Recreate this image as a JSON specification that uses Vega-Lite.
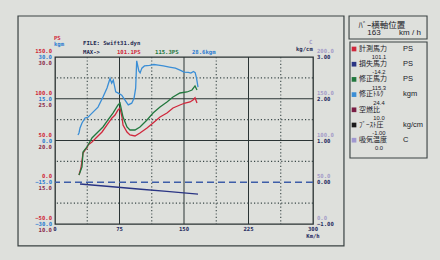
{
  "$schema": "https://vega.github.io/schema/vega-lite/v6.json",
  "width": 258,
  "height": 167,
  "autosize": {"type": "none"},
  "padding": {"left": 55, "top": 57, "right": 127, "bottom": 36},
  "background": "#dee0dc",
  "config": {
    "view": {"stroke": "#283030", "strokeWidth": 1.3},
    "axis": {"disable": true},
    "legend": {"disable": true},
    "text": {"font": "DejaVu Sans Mono", "fontWeight": "bold", "fontSize": 5.6, "baseline": "middle", "clip": false}
  },
  "datasets": {
    "ps": [
      {"s": "計測馬力", "speed": 27.9, "ps": 8.7}, {"s": "計測馬力", "speed": 30.2, "ps": 17.1}, {"s": "計測馬力", "speed": 32.6, "ps": 35.0}, {"s": "計測馬力", "speed": 34.9, "ps": 38.6}, {"s": "計測馬力", "speed": 37.2, "ps": 41.0}, {"s": "計測馬力", "speed": 38.4, "ps": 44.6}, {"s": "計測馬力", "speed": 43.0, "ps": 48.2}, {"s": "計測馬力", "speed": 48.8, "ps": 54.2}, {"s": "計測馬力", "speed": 54.7, "ps": 60.2}, {"s": "計測馬力", "speed": 60.5, "ps": 68.6}, {"s": "計測馬力", "speed": 66.3, "ps": 77.0}, {"s": "計測馬力", "speed": 69.8, "ps": 80.5}, {"s": "計測馬力", "speed": 73.3, "ps": 86.5}, {"s": "計測馬力", "speed": 75.6, "ps": 88.9}, {"s": "計測馬力", "speed": 77.9, "ps": 78.1}, {"s": "計測馬力", "speed": 79.1, "ps": 68.6}, {"s": "計測馬力", "speed": 83.7, "ps": 60.2}, {"s": "計測馬力", "speed": 87.2, "ps": 56.6}, {"s": "計測馬力", "speed": 93.0, "ps": 55.4}, {"s": "計測馬力", "speed": 98.8, "ps": 59.0}, {"s": "計測馬力", "speed": 107.0, "ps": 65.0}, {"s": "計測馬力", "speed": 114.0, "ps": 71.0}, {"s": "計測馬力", "speed": 122.1, "ps": 78.1}, {"s": "計測馬力", "speed": 130.2, "ps": 82.9}, {"s": "計測馬力", "speed": 137.2, "ps": 88.9}, {"s": "計測馬力", "speed": 145.3, "ps": 92.5}, {"s": "計測馬力", "speed": 151.2, "ps": 94.9}, {"s": "計測馬力", "speed": 157.0, "ps": 96.1}, {"s": "計測馬力", "speed": 160.5, "ps": 98.5}, {"s": "計測馬力", "speed": 162.8, "ps": 101.1}, {"s": "計測馬力", "speed": 165.1, "ps": 94.9},
      {"s": "修正馬力", "speed": 27.9, "ps": 8.7}, {"s": "修正馬力", "speed": 31.4, "ps": 18.3}, {"s": "修正馬力", "speed": 32.6, "ps": 36.2}, {"s": "修正馬力", "speed": 37.2, "ps": 42.2}, {"s": "修正馬力", "speed": 43.0, "ps": 53.0}, {"s": "修正馬力", "speed": 48.8, "ps": 59.0}, {"s": "修正馬力", "speed": 55.8, "ps": 66.2}, {"s": "修正馬力", "speed": 61.6, "ps": 74.6}, {"s": "修正馬力", "speed": 67.4, "ps": 82.9}, {"s": "修正馬力", "speed": 73.3, "ps": 92.5}, {"s": "修正馬力", "speed": 75.6, "ps": 94.9}, {"s": "修正馬力", "speed": 79.1, "ps": 78.1}, {"s": "修正馬力", "speed": 83.7, "ps": 66.2}, {"s": "修正馬力", "speed": 87.2, "ps": 62.6}, {"s": "修正馬力", "speed": 93.0, "ps": 62.6}, {"s": "修正馬力", "speed": 98.8, "ps": 66.2}, {"s": "修正馬力", "speed": 107.0, "ps": 74.6}, {"s": "修正馬力", "speed": 114.0, "ps": 82.9}, {"s": "修正馬力", "speed": 122.1, "ps": 90.1}, {"s": "修正馬力", "speed": 130.2, "ps": 96.1}, {"s": "修正馬力", "speed": 137.2, "ps": 102.1}, {"s": "修正馬力", "speed": 145.3, "ps": 106.9}, {"s": "修正馬力", "speed": 153.5, "ps": 108.1}, {"s": "修正馬力", "speed": 159.3, "ps": 110.5}, {"s": "修正馬力", "speed": 162.8, "ps": 115.3}, {"s": "修正馬力", "speed": 165.1, "ps": 110.5},
      {"s": "損失馬力", "speed": 29.1, "ps": -2.1}, {"s": "損失馬力", "speed": 60.0, "ps": -4.8}, {"s": "損失馬力", "speed": 100.0, "ps": -8.4}, {"s": "損失馬力", "speed": 130.0, "ps": -11.0}, {"s": "損失馬力", "speed": 166.3, "ps": -14.2}
    ],
    "kgm": [
      {"speed": 26.7, "kgm": 2.0}, {"speed": 27.9, "kgm": 2.7}, {"speed": 29.1, "kgm": 4.5}, {"speed": 31.4, "kgm": 6.3}, {"speed": 34.9, "kgm": 8.1}, {"speed": 38.4, "kgm": 8.4}, {"speed": 41.0, "kgm": 9.2}, {"speed": 44.2, "kgm": 10.2}, {"speed": 50.0, "kgm": 12.0}, {"speed": 55.8, "kgm": 15.6}, {"speed": 60.5, "kgm": 18.9}, {"speed": 64.0, "kgm": 22.3}, {"speed": 65.9, "kgm": 20.6}, {"speed": 67.8, "kgm": 21.7}, {"speed": 70.6, "kgm": 17.5}, {"speed": 73.6, "kgm": 17.0}, {"speed": 77.6, "kgm": 16.3}, {"speed": 81.4, "kgm": 14.5}, {"speed": 85.2, "kgm": 12.8}, {"speed": 89.2, "kgm": 13.4}, {"speed": 91.9, "kgm": 15.2}, {"speed": 93.8, "kgm": 18.8}, {"speed": 95.0, "kgm": 28.6}, {"speed": 97.5, "kgm": 25.0}, {"speed": 99.0, "kgm": 24.3}, {"speed": 101.0, "kgm": 26.0}, {"speed": 104.0, "kgm": 26.8}, {"speed": 110.0, "kgm": 27.0}, {"speed": 115.0, "kgm": 27.3}, {"speed": 120.0, "kgm": 27.1}, {"speed": 126.0, "kgm": 26.8}, {"speed": 133.0, "kgm": 26.4}, {"speed": 140.0, "kgm": 26.0}, {"speed": 146.0, "kgm": 25.2}, {"speed": 150.0, "kgm": 24.6}, {"speed": 155.0, "kgm": 24.5}, {"speed": 158.0, "kgm": 24.2}, {"speed": 161.0, "kgm": 24.8}, {"speed": 163.0, "kgm": 24.4}, {"speed": 164.5, "kgm": 22.5}, {"speed": 166.3, "kgm": 19.2}
    ],
    "yt": [
      {"ps": 150, "b": 30, "c": 30, "d": 200, "e": 3},
      {"ps": 100, "b": 15, "c": 25, "d": 150, "e": 2},
      {"ps": 50, "b": 0, "c": 20, "d": 100, "e": 1},
      {"ps": 0, "b": -15, "c": 15, "d": 50, "e": 0},
      {"ps": -50, "b": -30, "c": 10, "d": 0, "e": -1}
    ],
    "xt": [{"speed": 0}, {"speed": 75}, {"speed": 150}, {"speed": 225}, {"speed": 300}],
    "legend": [
      {"rank": 1, "name": "計測馬力", "unit": "PS", "val": "101.1"},
      {"rank": 2, "name": "損失馬力", "unit": "PS", "val": "-14.2"},
      {"rank": 3, "name": "修正馬力", "unit": "PS", "val": "115.3"},
      {"rank": 4, "name": "修正ﾄﾙｸ", "unit": "kgm", "val": "24.4"},
      {"rank": 5, "name": "空燃比", "unit": "", "val": "10.0"},
      {"rank": 6, "name": "ﾌﾞｰｽﾄ圧", "unit": "kg/cm", "val": "-1.00"},
      {"rank": 7, "name": "吸気温度", "unit": "C", "val": "0.0"}
    ]
  },
  "layer": [
    {
      "layer": [
        {"data": {"values": [{}]}, "mark": {"type": "rect", "filled": false, "color": "#3a4242", "strokeWidth": 1.2, "clip": false},
         "encoding": {"x": {"datum": -43.0, "type": "quantitative", "scale": {"domain": [0, 300], "nice": false}}, "x2": {"datum": 336.0}, "y": {"datum": 199.1, "type": "quantitative", "scale": {"domain": [-50, 150], "nice": false}}, "y2": {"datum": -76.3}}},
        {"data": {"values": [{}]}, "mark": {"type": "rect", "filled": false, "color": "#3a4242", "strokeWidth": 1.1, "clip": false},
         "encoding": {"x": {"datum": 341.9, "type": "quantitative", "scale": {"domain": [0, 300], "nice": false}}, "x2": {"datum": 432.6}, "y": {"datum": 199.1, "type": "quantitative", "scale": {"domain": [-50, 150], "nice": false}}, "y2": {"datum": 171.6}}},
        {"data": {"values": [{}]}, "mark": {"type": "rect", "filled": false, "color": "#3a4242", "strokeWidth": 1.1, "clip": false},
         "encoding": {"x": {"datum": 343.0, "type": "quantitative", "scale": {"domain": [0, 300], "nice": false}}, "x2": {"datum": 432.6}, "y": {"datum": 168.0, "type": "quantitative", "scale": {"domain": [-50, 150], "nice": false}}, "y2": {"datum": 29.0}}},
        {"data": {"values": [{"speed": 75}, {"speed": 150}, {"speed": 225}]}, "mark": {"type": "rule", "color": "#2a3434", "strokeWidth": 1},
         "encoding": {"x": {"field": "speed", "type": "quantitative", "scale": {"domain": [0, 300], "nice": false}}}},
        {"data": {"values": [{"speed": 37.5}, {"speed": 112.5}, {"speed": 187.5}, {"speed": 262.5}]}, "mark": {"type": "rule", "color": "#3a4848", "strokeWidth": 1.1, "strokeDash": [1.2, 2.2]},
         "encoding": {"x": {"field": "speed", "type": "quantitative", "scale": {"domain": [0, 300], "nice": false}}}},
        {"data": {"values": [{"ps": 100}, {"ps": 50}]}, "mark": {"type": "rule", "color": "#2a3434", "strokeWidth": 1},
         "encoding": {"y": {"field": "ps", "type": "quantitative", "scale": {"domain": [-50, 150], "nice": false}}}},
        {"data": {"values": [{"ps": 125}, {"ps": 75}, {"ps": 25}, {"ps": -25}]}, "mark": {"type": "rule", "color": "#3a4848", "strokeWidth": 1.1, "strokeDash": [1.2, 2.2]},
         "encoding": {"y": {"field": "ps", "type": "quantitative", "scale": {"domain": [-50, 150], "nice": false}}}},
        {"data": {"values": [{}]}, "mark": {"type": "rule", "color": "#3d5da8", "strokeWidth": 1.6, "strokeDash": [7, 4]},
         "encoding": {"y": {"datum": 0, "type": "quantitative", "scale": {"domain": [-50, 150], "nice": false}}}},
        {"data": {"name": "ps"}, "mark": {"type": "line", "strokeWidth": 1.3},
         "encoding": {
           "x": {"field": "speed", "type": "quantitative", "scale": {"domain": [0, 300], "nice": false}},
           "y": {"field": "ps", "type": "quantitative", "scale": {"domain": [-50, 150], "nice": false}},
           "color": {"field": "s", "type": "nominal", "scale": {"domain": ["計測馬力", "損失馬力", "修正馬力", "修正ﾄﾙｸ", "空燃比", "ﾌﾞｰｽﾄ圧", "吸気温度"], "range": ["#d0283c", "#2a3584", "#22783e", "#3a8ed6", "#7a1e44", "#1a1a1a", "#a098d0"]}}
         }},
        {"data": {"name": "yt"}, "mark": {"type": "text", "align": "right", "dx": -3, "dy": -6, "color": "#d02838"},
         "encoding": {"x": {"datum": 0, "type": "quantitative", "scale": {"domain": [0, 300], "nice": false}}, "y": {"field": "ps", "type": "quantitative", "scale": {"domain": [-50, 150], "nice": false}}, "text": {"field": "ps", "type": "quantitative", "format": ".1f"}}},
        {"data": {"name": "yt"}, "mark": {"type": "text", "align": "right", "dx": -3, "dy": 0, "color": "#2a7ad0"},
         "encoding": {"x": {"datum": 0, "type": "quantitative", "scale": {"domain": [0, 300], "nice": false}}, "y": {"field": "ps", "type": "quantitative", "scale": {"domain": [-50, 150], "nice": false}}, "text": {"field": "b", "type": "quantitative", "format": ".1f"}}},
        {"data": {"name": "yt"}, "mark": {"type": "text", "align": "right", "dx": -3, "dy": 6, "color": "#8a2a48"},
         "encoding": {"x": {"datum": 0, "type": "quantitative", "scale": {"domain": [0, 300], "nice": false}}, "y": {"field": "ps", "type": "quantitative", "scale": {"domain": [-50, 150], "nice": false}}, "text": {"field": "c", "type": "quantitative", "format": ".1f"}}},
        {"data": {"name": "yt"}, "mark": {"type": "text", "align": "left", "dx": 4, "dy": -6, "color": "#a49cc8"},
         "encoding": {"x": {"datum": 300, "type": "quantitative", "scale": {"domain": [0, 300], "nice": false}}, "y": {"field": "ps", "type": "quantitative", "scale": {"domain": [-50, 150], "nice": false}}, "text": {"field": "d", "type": "quantitative", "format": ".1f"}}},
        {"data": {"name": "yt"}, "mark": {"type": "text", "align": "left", "dx": 4, "dy": 0, "color": "#1e2a60"},
         "encoding": {"x": {"datum": 300, "type": "quantitative", "scale": {"domain": [0, 300], "nice": false}}, "y": {"field": "ps", "type": "quantitative", "scale": {"domain": [-50, 150], "nice": false}}, "text": {"field": "e", "type": "quantitative", "format": ".2f"}}},
        {"data": {"name": "xt"}, "mark": {"type": "text", "align": "center", "color": "#1e2a60"},
         "encoding": {"x": {"field": "speed", "type": "quantitative", "scale": {"domain": [0, 300], "nice": false}}, "y": {"datum": -56.0, "type": "quantitative", "scale": {"domain": [-50, 150], "nice": false}}, "text": {"field": "speed", "type": "quantitative"}}},
        {"data": {"values": [{}]}, "mark": {"type": "text", "align": "center", "color": "#1e2a60", "text": "Km/h"},
         "encoding": {"x": {"datum": 300, "type": "quantitative", "scale": {"domain": [0, 300], "nice": false}}, "y": {"datum": -64.4, "type": "quantitative", "scale": {"domain": [-50, 150], "nice": false}}}},
        {"data": {"values": [{}]}, "mark": {"type": "text", "align": "left", "color": "#d02838", "text": "PS"},
         "encoding": {"x": {"datum": -1.2, "type": "quantitative", "scale": {"domain": [0, 300], "nice": false}}, "y": {"datum": 172.8, "type": "quantitative", "scale": {"domain": [-50, 150], "nice": false}}}},
        {"data": {"values": [{}]}, "mark": {"type": "text", "align": "left", "color": "#2a7ad0", "text": "kgm"},
         "encoding": {"x": {"datum": -1.2, "type": "quantitative", "scale": {"domain": [0, 300], "nice": false}}, "y": {"datum": 165.6, "type": "quantitative", "scale": {"domain": [-50, 150], "nice": false}}}},
        {"data": {"values": [{}]}, "mark": {"type": "text", "align": "left", "color": "#1e2850", "text": "FILE: Swift31.dyn"},
         "encoding": {"x": {"datum": 32.6, "type": "quantitative", "scale": {"domain": [0, 300], "nice": false}}, "y": {"datum": 166.8, "type": "quantitative", "scale": {"domain": [-50, 150], "nice": false}}}},
        {"data": {"values": [{}]}, "mark": {"type": "text", "align": "left", "color": "#1e2850", "text": "MAX->"},
         "encoding": {"x": {"datum": 32.6, "type": "quantitative", "scale": {"domain": [0, 300], "nice": false}}, "y": {"datum": 156.0, "type": "quantitative", "scale": {"domain": [-50, 150], "nice": false}}}},
        {"data": {"values": [{}]}, "mark": {"type": "text", "align": "left", "color": "#d02838", "text": "101.1PS"},
         "encoding": {"x": {"datum": 72.1, "type": "quantitative", "scale": {"domain": [0, 300], "nice": false}}, "y": {"datum": 156.0, "type": "quantitative", "scale": {"domain": [-50, 150], "nice": false}}}},
        {"data": {"values": [{}]}, "mark": {"type": "text", "align": "left", "color": "#22783e", "text": "115.3PS"},
         "encoding": {"x": {"datum": 116.3, "type": "quantitative", "scale": {"domain": [0, 300], "nice": false}}, "y": {"datum": 156.0, "type": "quantitative", "scale": {"domain": [-50, 150], "nice": false}}}},
        {"data": {"values": [{}]}, "mark": {"type": "text", "align": "left", "color": "#2a7ad0", "text": "28.6kgm"},
         "encoding": {"x": {"datum": 159.3, "type": "quantitative", "scale": {"domain": [0, 300], "nice": false}}, "y": {"datum": 156.0, "type": "quantitative", "scale": {"domain": [-50, 150], "nice": false}}}},
        {"data": {"values": [{}]}, "mark": {"type": "text", "align": "left", "color": "#1e2850", "text": "kg/cm"},
         "encoding": {"x": {"datum": 280.2, "type": "quantitative", "scale": {"domain": [0, 300], "nice": false}}, "y": {"datum": 159.6, "type": "quantitative", "scale": {"domain": [-50, 150], "nice": false}}}},
        {"data": {"values": [{}]}, "mark": {"type": "text", "align": "left", "color": "#a49cc8", "text": "C"},
         "encoding": {"x": {"datum": 295.3, "type": "quantitative", "scale": {"domain": [0, 300], "nice": false}}, "y": {"datum": 168.0, "type": "quantitative", "scale": {"domain": [-50, 150], "nice": false}}}},
        {"data": {"values": [{}]}, "mark": {"type": "text", "align": "center", "color": "#1a1a28", "font": "Noto Sans CJK JP", "fontWeight": "normal", "fontSize": 8.5, "text": "ﾊﾞｰ横軸位置"},
         "encoding": {"x": {"datum": 380.2, "type": "quantitative", "scale": {"domain": [0, 300], "nice": false}}, "y": {"datum": 188.3, "type": "quantitative", "scale": {"domain": [-50, 150], "nice": false}}}},
        {"data": {"values": [{}]}, "mark": {"type": "text", "align": "center", "color": "#1a1a28", "font": "Liberation Sans", "fontWeight": "normal", "fontSize": 8, "text": "163"},
         "encoding": {"x": {"datum": 370.9, "type": "quantitative", "scale": {"domain": [0, 300], "nice": false}}, "y": {"datum": 178.7, "type": "quantitative", "scale": {"domain": [-50, 150], "nice": false}}}},
        {"data": {"values": [{}]}, "mark": {"type": "text", "align": "center", "color": "#1a1a28", "font": "Liberation Sans", "fontWeight": "normal", "fontSize": 8, "text": "km / h"},
         "encoding": {"x": {"datum": 412.8, "type": "quantitative", "scale": {"domain": [0, 300], "nice": false}}, "y": {"datum": 178.7, "type": "quantitative", "scale": {"domain": [-50, 150], "nice": false}}}}
      ]
    },
    {"data": {"name": "kgm"}, "mark": {"type": "line", "color": "#3a8ed6", "strokeWidth": 1.3},
     "encoding": {
       "x": {"field": "speed", "type": "quantitative", "scale": {"domain": [0, 300], "nice": false}},
       "y": {"field": "kgm", "type": "quantitative", "scale": {"domain": [-30, 30], "nice": false, "zero": false}}
     }},
    {"data": {"name": "legend"},
     "layer": [
       {"mark": {"type": "square", "size": 22, "filled": true, "opacity": 1, "clip": false, "yOffset": -3},
        "encoding": {"x": {"datum": 347.7, "type": "quantitative", "scale": {"domain": [0, 300], "nice": false}}, "y": {"field": "rank", "type": "quantitative", "scale": {"domain": [1.329, 12.316], "reverse": true, "nice": false, "zero": false}}, "color": {"field": "name", "type": "nominal"}}},
       {"mark": {"type": "text", "align": "left", "dy": -3.2, "color": "#1a1a28", "font": "Noto Sans CJK JP", "fontWeight": "normal", "fontSize": 7},
        "encoding": {"x": {"datum": 353.5, "type": "quantitative", "scale": {"domain": [0, 300], "nice": false}}, "y": {"field": "rank", "type": "quantitative", "scale": {"domain": [1.329, 12.316], "reverse": true, "nice": false, "zero": false}}, "text": {"field": "name"}}},
       {"mark": {"type": "text", "align": "left", "dy": -3.2, "color": "#1a1a28", "font": "Liberation Sans", "fontWeight": "normal", "fontSize": 7.5},
        "encoding": {"x": {"datum": 404.7, "type": "quantitative", "scale": {"domain": [0, 300], "nice": false}}, "y": {"field": "rank", "type": "quantitative", "scale": {"domain": [1.329, 12.316], "reverse": true, "nice": false, "zero": false}}, "text": {"field": "unit"}}},
       {"mark": {"type": "text", "align": "center", "dy": 5.2, "color": "#1a1a28", "font": "Liberation Sans", "fontWeight": "normal", "fontSize": 5.8},
        "encoding": {"x": {"datum": 376.7, "type": "quantitative", "scale": {"domain": [0, 300], "nice": false}}, "y": {"field": "rank", "type": "quantitative", "scale": {"domain": [1.329, 12.316], "reverse": true, "nice": false, "zero": false}}, "text": {"field": "val"}}}
     ]}
  ],
  "resolve": {"scale": {"y": "independent"}}
}
